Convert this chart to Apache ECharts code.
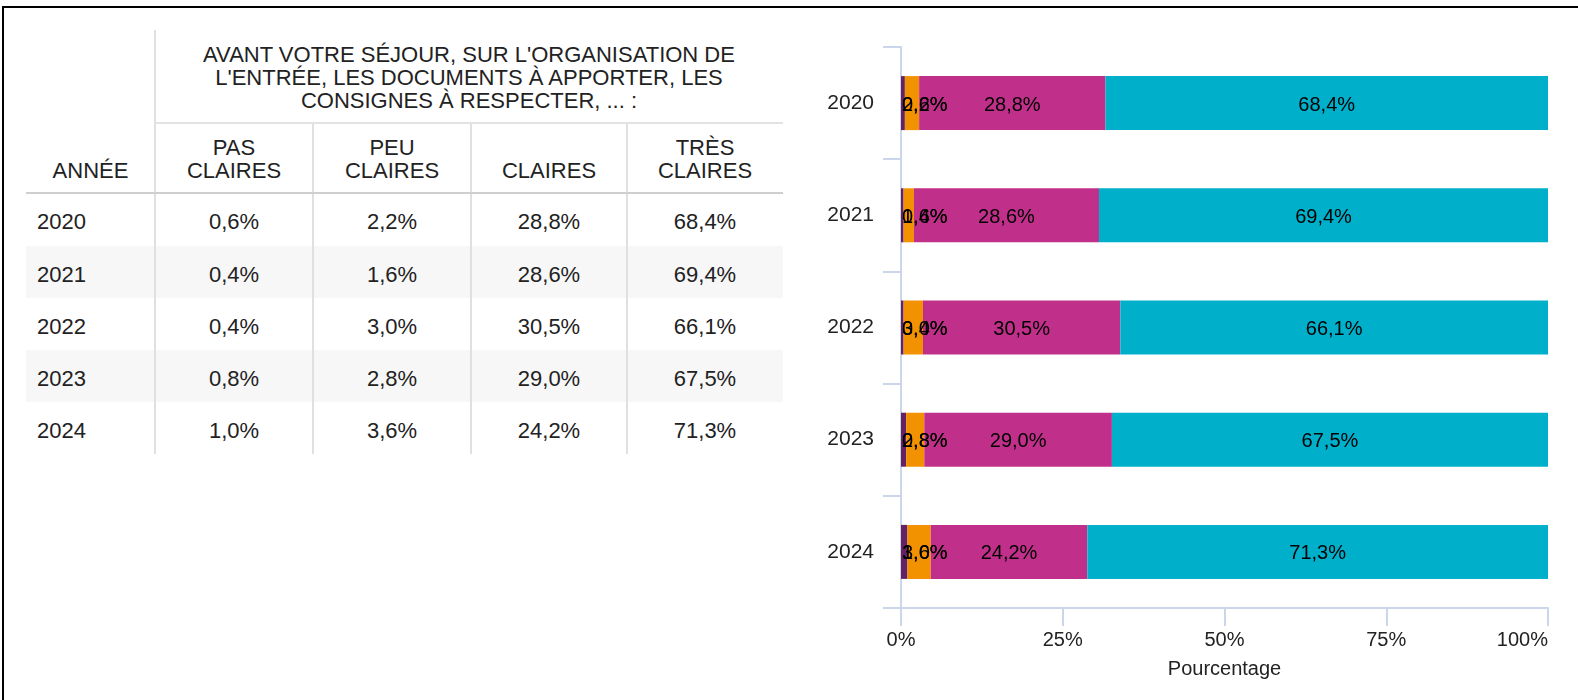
<!DOCTYPE html>
<html>
<head>
<meta charset="utf-8">
<script src="https://cdn.jsdelivr.net/npm/echarts@6/dist/echarts.min.js"></script>
<style>
  html, body { margin: 0; padding: 0; width: 1578px; height: 700px; overflow: hidden; background: #fff; font-family: "Liberation Sans", Arial, sans-serif; }
  #frame { position: absolute; left: 2px; top: 6px; width: 1700px; height: 800px; border-left: 2px solid #000; border-top: 2px solid #000; }
  #tbl { position: absolute; left: 0; top: 0; width: 800px; height: 700px; }
  .ln { position: absolute; }
  .cell { position: absolute; box-sizing: border-box; display: flex; color: #222; font-size: 22px; line-height: 23px; text-align: center; white-space: nowrap; }
  #chart { position: absolute; left: 790px; top: 0; width: 788px; height: 700px; }
</style>
</head>
<body>
<div id="frame"></div>
<div id="tbl"></div>
<div id="chart"></div>
<script>
// ---- Data ----
const years = ['2020', '2021', '2022', '2023', '2024'];
const pasClaires = [0.6, 0.4, 0.4, 0.8, 1.0];
const peuClaires = [2.2, 1.6, 3.0, 2.8, 3.6];
const claires = [28.8, 28.6, 30.5, 29.0, 24.2];
const tresClaires = [68.4, 69.4, 66.1, 67.5, 71.3];
const seriesNames = ['PAS CLAIRES', 'PEU CLAIRES', 'CLAIRES', 'TRÈS CLAIRES'];
const groupHeader = "AVANT VOTRE SÉJOUR, SUR L'ORGANISATION DE<br>L'ENTRÉE, LES DOCUMENTS À APPORTER, LES<br>CONSIGNES À RESPECTER, ... :";
const yearHeader = 'ANNÉE';
const subHeaders = ['PAS<br>CLAIRES', 'PEU<br>CLAIRES', 'CLAIRES', 'TRÈS<br>CLAIRES'];
const xTickLabels = ['0%', '25%', '50%', '75%', '100%'];
const xAxisName = 'Pourcentage';
const colors = ['#642262', '#f39200', '#c0308a', '#00b0cb'];

const fmt = v => v.toFixed(1).replace('.', ',') + '%';

// ---- Table (HTML) ----
const tbl = document.getElementById('tbl');
const colX = [26, 155, 313, 471, 627, 783];
const rowY = [193, 246, 298, 350, 402, 454];
const hTop = 30, hMid = 123, hBot = 193;
function add(cls, style, html) {
  const d = document.createElement('div');
  d.className = cls;
  Object.assign(d.style, style);
  if (html !== undefined) d.innerHTML = html;
  tbl.appendChild(d);
  return d;
}
// shaded rows
for (let i = 0; i < years.length; i++) {
  if (i % 2 === 1) add('ln', { left: colX[0] + 'px', top: rowY[i] + 'px', width: (colX[5] - colX[0]) + 'px', height: (rowY[i + 1] - rowY[i]) + 'px', background: '#f7f7f7' });
}
// lines
add('ln', { left: '154px', top: hTop + 'px', width: '2px', height: (rowY[5] - hTop) + 'px', background: '#e0e0e0' });
for (let c = 2; c <= 4; c++) add('ln', { left: (colX[c] - 1) + 'px', top: hMid + 'px', width: '2px', height: (rowY[5] - hMid) + 'px', background: '#e0e0e0' });
add('ln', { left: colX[1] + 'px', top: (hMid - 1) + 'px', width: (colX[5] - colX[1]) + 'px', height: '2px', background: '#e3e3e3' });
add('ln', { left: colX[0] + 'px', top: (hBot - 1) + 'px', width: (colX[5] - colX[0]) + 'px', height: '2px', background: '#cfcfcf' });
// header cells
add('cell', { left: colX[1] + 'px', top: hTop + 'px', width: (colX[5] - colX[1]) + 'px', height: (hMid - hTop) + 'px', alignItems: 'flex-end', justifyContent: 'center', paddingBottom: '11px' }, '<div>' + groupHeader + '</div>');
add('cell', { left: colX[0] + 'px', top: hTop + 'px', width: (colX[1] - colX[0]) + 'px', height: (hBot - hTop) + 'px', alignItems: 'flex-end', justifyContent: 'center', paddingBottom: '11px' }, '<div>' + yearHeader + '</div>');
for (let c = 0; c < 4; c++) {
  add('cell', { left: colX[c + 1] + 'px', top: hMid + 'px', width: (colX[c + 2] - colX[c + 1]) + 'px', height: (hBot - hMid) + 'px', alignItems: 'flex-end', justifyContent: 'center', paddingBottom: '11px' }, '<div>' + subHeaders[c] + '</div>');
}
// data cells
const cols = [pasClaires, peuClaires, claires, tresClaires];
for (let i = 0; i < years.length; i++) {
  const h = (rowY[i + 1] - rowY[i]);
  add('cell', { left: colX[0] + 'px', top: rowY[i] + 'px', width: (colX[1] - colX[0]) + 'px', height: h + 'px', alignItems: 'center', justifyContent: 'flex-start', paddingLeft: '11px', paddingTop: '4px' }, '<div>' + years[i] + '</div>');
  for (let c = 0; c < 4; c++) {
    add('cell', { left: colX[c + 1] + 'px', top: rowY[i] + 'px', width: (colX[c + 2] - colX[c + 1]) + 'px', height: h + 'px', alignItems: 'center', justifyContent: 'center', paddingTop: '4px' }, '<div>' + fmt(cols[c][i]) + '</div>');
  }
}

// ---- Chart ----
const chart = echarts.init(document.getElementById('chart'), null, { renderer: 'canvas' });
const axisColor = '#ccd6eb';
const font = '"Liberation Sans", Arial, sans-serif';
const gridLeft = 111;
chart.setOption({
  animation: false,
  backgroundColor: 'transparent',
  textStyle: { fontFamily: font },
  grid: { left: gridLeft, right: 30, top: 47, bottom: 92, outerBoundsMode: 'none', containLabel: false },
  xAxis: {
    type: 'value', min: 0, max: 100, interval: 25,
    name: xAxisName, nameLocation: 'middle', nameGap: 51,
    nameTextStyle: { color: '#222', fontSize: 20, fontFamily: font },
    axisLine: { show: true, lineStyle: { color: axisColor, width: 2 } },
    axisTick: { show: true, length: 18, lineStyle: { color: axisColor, width: 2 } },
    splitLine: { show: false },
    axisLabel: { color: '#222', fontSize: 20, fontFamily: font, margin: 22, alignMaxLabel: 'right', formatter: v => xTickLabels[Math.round(v / 25)] }
  },
  yAxis: {
    type: 'category', data: years, inverse: true,
    axisLine: { show: true, lineStyle: { color: axisColor, width: 2 } },
    axisTick: { show: true, length: 18, alignWithLabel: false, lineStyle: { color: axisColor, width: 2 } },
    axisLabel: { color: '#222', fontSize: 21, fontFamily: font, margin: 27, padding: [5, 0, 0, 0] },
    splitLine: { show: false }
  },
  series: cols.map((arr, k) => ({
    name: seriesNames[k], type: 'bar', stack: 'total', barWidth: 54,
    itemStyle: { color: colors[k] },
    label: { show: true, position: 'inside', color: '#000', fontSize: 20, fontFamily: font, formatter: p => fmt(p.value) },
    labelLayout: function (params) {
      const r = params.labelRect;
      const cy = r.y + r.height / 2 + 2;
      if (r.x < gridLeft + 1) {
        return { x: gridLeft + 1, y: cy, align: 'left', verticalAlign: 'middle' };
      }
      return { x: r.x + r.width / 2, y: cy, align: 'center', verticalAlign: 'middle' };
    },
    data: arr
  }))
});
</script>
</body>
</html>
